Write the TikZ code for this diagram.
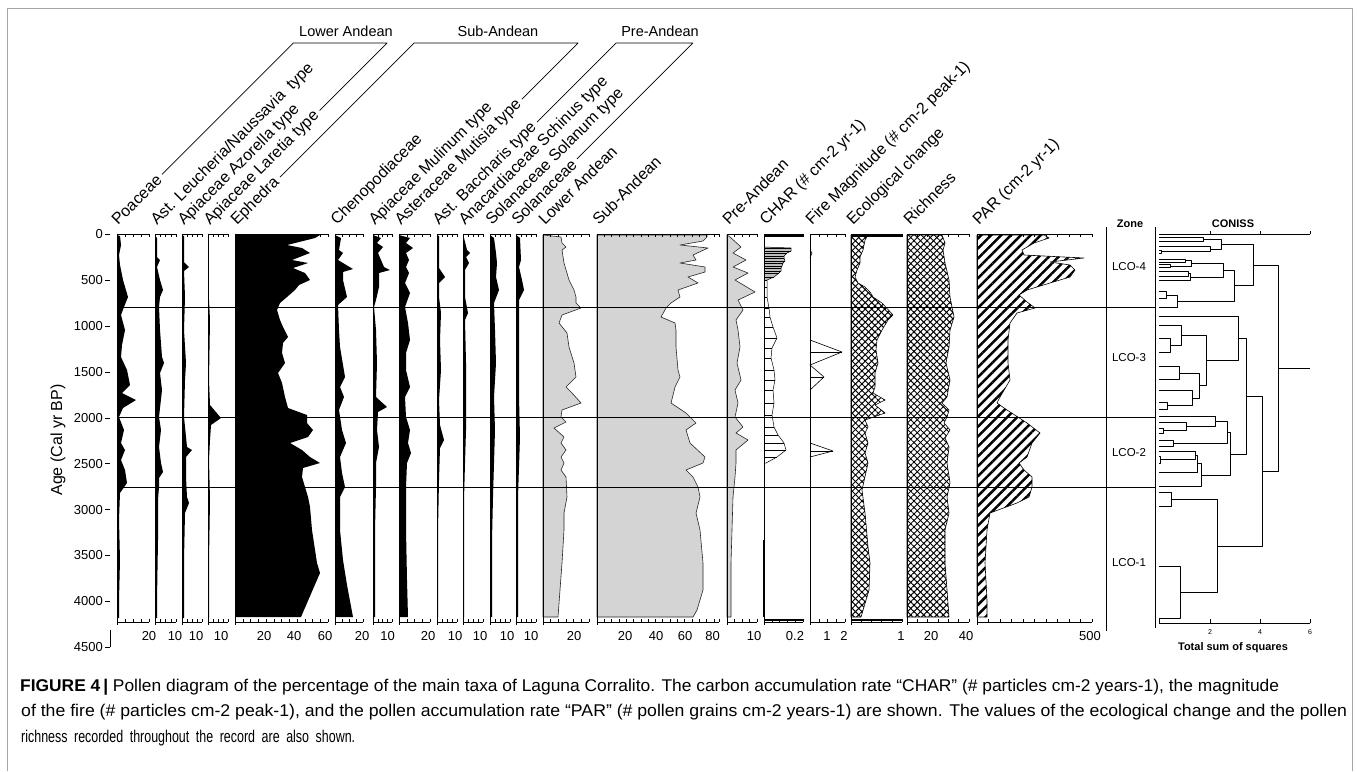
\documentclass[tikz,border=0pt]{standalone}
\usepackage{graphicx}
\usepackage{fontspec}
\setmainfont{Liberation Sans}
\usetikzlibrary{calc,patterns.meta}
\newcommand{\cnbrk}[5]{\draw[cntree] (#1,#3) -- (#5,#3) -- (#5,#4) -- (#2,#4);}
\newcommand{\capline}[2]{\setbox0=\hbox{#2}\pgfmathsetmacro\capsx{#1/\the\wd0}\scalebox{\capsx}[1]{\copy0}}
\begin{document}
\begin{tikzpicture}[x=1pt,y=-1pt,line join=round,
  tk/.style={line width=0.5pt},
  axl/.style={line width=0.7pt},
  colline/.style={line width=0.9pt},
  zoneline/.style={line width=0.9pt},
  cntree/.style={line width=0.8pt},
  taxon/.style={rotate=45, anchor=base west, inner sep=0pt, font=\fontsize{16}{18}\selectfont},
  grp/.style={inner sep=0pt, font=\fontsize{14.5}{17}\selectfont},
  num/.style={inner sep=0pt, font=\fontsize{13}{15}\selectfont},
  sml/.style={inner sep=0pt, font=\fontsize{11.5}{13}\selectfont},
  smlb/.style={inner sep=0pt, font=\fontsize{11}{13}\selectfont\bfseries},
  tinyt/.style={inner sep=0pt, font=\fontsize{7}{8}\selectfont},
  captxt/.style={inner sep=0pt, anchor=base west, font=\fontsize{17}{19}\selectfont},
  grpline/.style={line width=0.7pt, shorten <=4pt, shorten >=4pt},
  stip/.style={fill=black!17, draw=black!85, line width=0.6pt},
  xhatch/.style={pattern={Lines[angle=45,distance=4.6pt,line width=0.95pt]},
     postaction={pattern={Lines[angle=-45,distance=4.6pt,line width=0.95pt]}},
     postaction={draw,line width=0.6pt}},
]
\useasboundingbox (0,0) rectangle (1357,771);
\fill[white] (0,0) rectangle (1357,771);
\draw[gray!70, line width=1pt] (7,771) -- (7,8) -- (1352,8) -- (1352,771);

% ---------------- pollen curves (black silhouettes)
\begin{scope}[shift={(117,0)}]
\fill plot coordinates {(0,235) (3,236) (4,245) (2,255) (3,265) (6,280) (11,297) (7,307) (4,315) (8,330) (5,345) (4,357) (10,370) (13,385) (5,393) (19,400) (6,408) (2,417) (7,430) (4,443) (8,450) (4,460) (8,470) (10,483) (3,493) (2,520) (3,560) (2,600) (2,618) (0,618)} -- cycle;
\end{scope}
\begin{scope}[shift={(155,0)}]
\fill plot coordinates {(0,235) (2,238) (2,257) (5,260) (2,267) (5,280) (8,290) (5,297) (4,307) (5,330) (7,357) (9,363) (5,373) (7,390) (4,417) (6,430) (4,447) (6,463) (8,472) (4,478) (4,487) (3,500) (3,540) (2,600) (2,618) (0,618)} -- cycle;
\end{scope}
\begin{scope}[shift={(182,0)}]
\fill plot coordinates {(0,235) (2,236) (2,262) (7,267) (2,271) (3,297) (2,330) (4,363) (3,380) (2,417) (5,447) (10,450) (4,457) (4,477) (5,497) (7,503) (3,513) (2,560) (2,618) (0,618)} -- cycle;
\end{scope}
\begin{scope}[shift={(208,0)}]
\fill plot coordinates {(0,235) (1,300) (2,320) (1,380) (2,405) (13,418) (3,425) (2,440) (1,460) (2,500) (1,560) (1,618) (0,618)} -- cycle;
\end{scope}
\begin{scope}[shift={(235,0)}]
\fill plot coordinates {(0,235) (85,235) (80,238) (52,245) (67,248) (75,253) (57,260) (73,263) (58,268) (70,273) (75,280) (64,285) (60,290) (52,297) (45,303) (42,310) (45,320) (48,327) (53,337) (48,343) (47,353) (50,363) (43,373) (47,383) (50,397) (53,408) (72,415) (72,423) (78,430) (73,437) (55,443) (67,450) (75,457) (85,463) (68,468) (67,477) (73,497) (75,507) (77,530) (82,563) (85,573) (66,617) (0,617)} -- cycle;
\end{scope}
\begin{scope}[shift={(335,0)}]
\fill plot coordinates {(0,235) (6,238) (4,250) (8,253) (3,260) (8,263) (18,269) (8,272) (8,280) (12,297) (3,305) (4,330) (5,347) (10,377) (5,387) (9,397) (4,410) (7,430) (11,443) (5,457) (7,473) (10,487) (5,497) (5,530) (8,560) (12,585) (18,617) (0,617)} -- cycle;
\end{scope}
\begin{scope}[shift={(373,0)}]
\fill plot coordinates {(0,235) (8,238) (4,243) (10,247) (5,253) (8,260) (11,267) (17,270) (6,273) (6,287) (3,300) (1,307) (3,330) (4,363) (3,397) (14,407) (5,412) (4,430) (6,447) (3,463) (3,487) (2,530) (2,617) (0,617)} -- cycle;
\end{scope}
\begin{scope}[shift={(399,0)}]
\fill plot coordinates {(0,235) (11,238) (7,243) (14,248) (7,253) (10,260) (7,267) (10,273) (6,283) (11,293) (6,307) (9,323) (11,340) (7,353) (7,370) (11,387) (6,397) (7,417) (11,430) (9,443) (12,453) (8,463) (7,487) (7,530) (8,580) (9,617) (0,617)} -- cycle;
\end{scope}
\begin{scope}[shift={(437,0)}]
\fill plot coordinates {(0,235) (2,236) (2,268) (8,277) (2,283) (2,297) (4,313) (3,340) (4,370) (2,400) (3,425) (7,440) (3,448) (2,480) (1,530) (1,617) (0,617)} -- cycle;
\end{scope}
\begin{scope}[shift={(463,0)}]
\fill plot coordinates {(0,235) (1,238) (4,250) (7,253) (3,257) (6,263) (2,270) (2,297) (5,313) (2,320) (3,363) (3,397) (3,430) (2,463) (1,500) (1,617) (0,617)} -- cycle;
\end{scope}
\begin{scope}[shift={(490,0)}]
\fill plot coordinates {(0,235) (4,238) (6,253) (7,263) (6,277) (9,290) (4,303) (5,330) (6,363) (4,397) (5,430) (4,463) (3,497) (2,540) (2,617) (0,617)} -- cycle;
\end{scope}
\begin{scope}[shift={(516,0)}]
\fill plot coordinates {(0,235) (4,238) (5,260) (3,267) (6,280) (8,290) (3,300) (3,330) (3,397) (4,437) (2,497) (2,617) (0,617)} -- cycle;
\end{scope}

% ---------------- group sums (stippled)
\begin{scope}[shift={(543,0)}]
\filldraw[stip] plot coordinates {(0,235) (18,237) (19,243) (23,247) (19,250) (21,263) (26,280) (31,290) (33,297) (33,303) (38,308) (19,315) (16,323) (24,333) (26,347) (31,363) (33,377) (23,387) (29,393) (38,403) (19,410) (18,417) (23,422) (11,428) (21,437) (18,443) (23,450) (18,457) (21,463) (18,470) (23,477) (24,497) (21,513) (21,530) (19,563) (17,590) (15,617) (0,617)} -- cycle;
\end{scope}
\begin{scope}[shift={(597,0)}]
\filldraw[stip] plot coordinates {(0,235) (110,235) (110,237) (106,241) (83,245) (111,248) (96,255) (99,260) (83,263) (108,267) (108,272) (91,277) (101,283) (81,290) (83,297) (74,303) (69,308) (64,317) (78,323) (79,330) (79,347) (81,370) (83,377) (78,387) (74,403) (89,413) (99,423) (89,430) (93,443) (108,457) (106,463) (89,470) (96,477) (101,487) (103,497) (99,513) (103,530) (106,563) (106,590) (100,610) (96,617) (0,617)} -- cycle;
\end{scope}
\begin{scope}[shift={(727,0)}]
\filldraw[stip] plot coordinates {(0,235) (3,237) (14,247) (6,253) (19,260) (6,267) (21,273) (8,280) (28,292) (11,300) (16,310) (9,320) (11,330) (13,347) (10,363) (14,380) (8,390) (11,403) (8,417) (16,427) (9,433) (21,440) (9,450) (9,463) (8,477) (6,497) (5,530) (4,563) (4,600) (4,617) (0,617)} -- cycle;
\end{scope}

% ---------------- CHAR (histogram)
\begin{scope}[shift={(764,0)}]
\fill[black!25] plot coordinates {(0,247) (27,248) (27,251) (23,253) (20,256) (20,258) (21,261) (19,263) (18,266) (17,268) (17,271) (15,273) (10,277) (3,280) (0,280)} -- cycle;
\draw[line width=0.5pt] plot coordinates {(0,247) (27,248) (27,251) (23,253) (20,256) (20,258) (21,261) (19,263) (18,266) (17,268) (17,271) (15,273) (10,277) (3,280) (3,287) (3,297) (5,308) (6,317) (9,327) (13,338) (8,348) (7,358) (10,370) (11,380) (9,390) (10,403) (8,415) (10,427) (14,435) (20,443) (22,450) (13,457) (2,463) (0,463)};
\foreach \dx/\yy in {27/248,27/251,23/253,20/256,20/258,21/261,19/263,18/266,17/268,17/271,15/273,10/277,3/280,3/287,3/297,5/308,6/317,9/327,13/338,8/348,7/358,10/370,11/380,9/390,10/403,8/415,10/427,14/435,20/443,22/450,13/457}
  \draw[line width=0.5pt] (0,\yy) -- (\dx,\yy);
\draw[line width=2.5pt] (0,235.5) -- (39,235.5);
\draw[line width=2pt] (0,620) -- (39,620);
\draw[line width=1.8pt] (0,540) -- (0,617);
\end{scope}

% ---------------- Fire magnitude
\begin{scope}[shift={(810,0)}]
\draw[line width=0.6pt] plot coordinates {(0,340) (32,352) (0,365) (14,377) (0,390)};
\draw[line width=0.6pt] (0,352) -- (32,352) (0,377) -- (14,377);
\draw[line width=0.6pt] plot coordinates {(0,443) (23,451) (0,457)};
\draw[line width=0.6pt] (0,451) -- (23,451);
\draw[line width=0.6pt] (0,250) -- (2,253) -- (0,258);
\end{scope}

% ---------------- Ecological change
\begin{scope}[shift={(851,0)}]
\path[xhatch] plot coordinates {(0,235) (17,235) (14,240) (12,250) (9,257) (9,263) (6,270) (4,277) (7,283) (14,287) (19,292) (22,297) (31,303) (42,315) (37,320) (31,330) (26,340) (25,350) (27,363) (24,373) (24,387) (22,393) (34,400) (24,405) (34,413) (14,420) (17,427) (14,433) (17,443) (14,453) (17,463) (11,490) (14,513) (17,547) (19,563) (18,590) (10,617) (0,617)} -- cycle;
\draw[line width=2.5pt] (0,235.5) -- (51,235.5);
\draw[line width=2pt] (0,620) -- (51,620);
\end{scope}

% ---------------- Richness
\begin{scope}[shift={(907,0)}]
\path[xhatch] plot coordinates {(0,235) (35,235) (38,243) (36,250) (38,263) (42,280) (43,297) (45,307) (47,317) (43,330) (42,347) (39,363) (43,380) (40,397) (35,403) (42,410) (40,417) (37,423) (43,430) (38,438) (42,447) (40,463) (43,483) (40,497) (42,513) (38,530) (38,563) (40,590) (42,617) (0,617)} -- cycle;
\end{scope}

% ---------------- PAR
\begin{scope}[shift={(977,0)}]
\path[pattern={Lines[angle=45,distance=7pt,line width=2.5pt]}, postaction={draw,line width=0.6pt}] plot coordinates {(0,235) (67,235) (72,238) (57,243) (45,250) (47,255) (107,258) (73,262) (93,265) (98,270) (93,277) (73,283) (50,290) (42,295) (50,302) (58,308) (40,313) (33,323) (31,340) (31,363) (33,380) (23,397) (20,403) (30,410) (50,423) (63,433) (55,443) (50,457) (42,463) (47,470) (55,477) (55,487) (52,497) (40,503) (13,513) (10,530) (8,563) (10,600) (10,617) (0,617)} -- cycle;
\end{scope}

% ---------------- axes of all columns
\foreach \a/\b/\s in {117/149/8, 155/176/5.25, 182/202/5, 208/228/5, 235/328/7.75, 335/363/7, 373/392/4.75, 399/430/7.75, 437/457/5, 463/483/5, 490/510/5, 516/536/5, 543/589/7.67, 597/719/7.3, 727/757/7.5, 764/803/7.8, 810/845/8.75, 851/902/10.2, 907/969/10.3, 977/1092/11.5}{
  \draw[axl] (\a,234) -- (\b,234);
  \draw[axl] (\a,622) -- (\b,622);
  \draw[colline] (\a,234) -- (\a,625);
  \pgfmathsetmacro\nx{\a+\s}
  \foreach \t in {\a,\nx,...,\b} {\draw[tk] (\t,234) -- (\t,236.5); \draw[tk] (\t,622) -- (\t,619);}
  \draw[tk] (\b,234) -- (\b,236.5);
  \draw[tk] (\b,622) -- (\b,618.5);
}

% zone boundaries
\draw[zoneline] (117,307) -- (1155,307);
\draw[zoneline] (117,417) -- (1155,417);
\draw[zoneline] (117,487) -- (1155,487);

% age axis
\foreach \v in {0,500,...,4500}{
  \pgfmathsetmacro\yy{234.5+\v*0.0917}
  \node[num,anchor=east] (ytl\v) at (103,\yy) {\v};
  \draw[axl] (105,\yy) -- (110,\yy);
}
\draw[axl] (110,647) -- (110,630);
\node[rotate=90, inner sep=0pt, font=\fontsize{16}{18}\selectfont] (agelab) at (58,440) {Age (Cal yr BP)};

% bottom scale labels
\foreach \xx/\t [count=\i] in {149/20,175/10,196/10,221/10,264/20,294/40,325/60,362/20,387.5/10,428/20,455/10,480/10,507/10,531/10,574/20,625/20,656/40,685/60,712.5/80,754/10,795/0.2,827/1,844/2,901/1,931/20,966/40,1090/500}
  \node[num] (bx\i) at (\xx,636) {\t};

% column labels
\node[taxon] (poa) at (118,226) {Poaceae};
\node[taxon] (leu) at (157,226) {Ast. Leucheria/Naussavia\ \ type};
\node[taxon] (azo) at (184,226) {Apiaceae Azorella type};
\node[taxon] (lar) at (210,226) {Apiaceae Laretia type};
\node[taxon] (eph) at (237,226) {Ephedra};
\node[taxon] (che) at (337,226) {Chenopodiaceae};
\node[taxon] (mul) at (375,226) {Apiaceae Mulinum type};
\node[taxon] (mut) at (401,226) {Asteraceae Mutisia type};
\node[taxon] (bac) at (439,226) {Ast. Baccharis type};
\node[taxon] (sch) at (465,226) {Anacardiaceae Schinus type};
\node[taxon] (sol) at (492,226) {Solanaceae Solanum type};
\node[taxon] (sln) at (518,226) {Solanaceae};
\node[taxon] (lan) at (545,226) {Lower Andean};
\node[taxon] (san) at (599,226) {Sub-Andean};
\node[taxon] (pan) at (729,226) {Pre-Andean};
\node[taxon] (chr) at (766,226) {CHAR (\# cm-2 yr-1)};
\node[taxon] (fir) at (812,226) {Fire Magnitude (\# cm-2 peak-1)};
\node[taxon] (eco) at (853,226) {Ecological change};
\node[taxon] (ric) at (910,226) {Richness};
\node[taxon] (par) at (979,226) {PAR (cm-2 yr-1)};

% group brackets
\node[grp] (lowerg) at (346,31) {Lower Andean};
\node[grp] (subg) at (498,31) {Sub-Andean};
\node[grp] (preg) at (660,31) {Pre-Andean};
\draw[grpline] let \p1=(poa.east), \p2=(lar.east) in
  (\p1) -- ({\x1-43pt-\y1},-43pt) -- ({\x2-43pt-\y2},-43pt) -- (\p2);
\draw[grpline] let \p1=(eph.east), \p2=(mut.east) in
  (\p1) -- ({\x1-43pt-\y1},-43pt) -- ({\x2-43pt-\y2},-43pt) -- (\p2);
\draw[grpline] let \p1=(bac.east), \p2=(sln.east) in
  (\p1) -- ({\x1-43pt-\y1},-43pt) -- ({\x2-43pt-\y2},-43pt) -- (\p2);

% zone column
\draw[colline] (1106,227) -- (1106,631);
\draw[colline] (1155,227) -- (1155,628);
\node[smlb] (zonel) at (1130,224) {Zone};
\node[smlb] (conissl) at (1233,224) {CONISS};
\node[sml] (lco4) at (1129,267) {LCO-4};
\node[sml] (lco3) at (1129,358) {LCO-3};
\node[sml] (lco2) at (1129,453) {LCO-2};
\node[sml] (lco1) at (1129,563) {LCO-1};

% CONISS dendrogram
\begin{scope}[shift={(1080,220)}, x=0.33333pt, y=-0.33333pt]
\draw[axl] (237,42) -- (690,42);
\foreach \t in {390,540,690} \draw[tk] (\t,42) -- (\t,34);
\draw[axl] (237,1210) -- (690,1210);
\foreach \t in {237,390,540,690} \draw[tk] (\t,1210) -- (\t,1198);
\node[tinyt] (cn2) at (390,1237) {2};
\node[tinyt] (cn4) at (540,1237) {4};
\node[tinyt] (cn6) at (690,1237) {6};
\cnbrk{237}{237}{52}{65}{370}
\cnbrk{237}{237}{90}{100}{245}
\cnbrk{237}{245}{80}{95}{392}
\cnbrk{370}{392}{58.5}{87.5}{425}
\cnbrk{237}{237}{117}{127}{315}
\cnbrk{237}{237}{133}{143}{270}
\cnbrk{315}{270}{122}{138}{335}
\cnbrk{237}{237}{155}{168}{325}
\cnbrk{325}{237}{161.5}{182}{332}
\cnbrk{335}{332}{130}{172}{430}
\cnbrk{237}{237}{215}{235}{258}
\cnbrk{258}{237}{225}{262}{292}
\cnbrk{430}{292}{151}{243.5}{462}
\cnbrk{425}{462}{73}{197}{520}
\cnbrk{237}{237}{355}{397}{270}
\cnbrk{237}{270}{315}{376}{305}
\cnbrk{237}{237}{440}{478}{297}
\cnbrk{237}{237}{547}{568}{262}
\cnbrk{237}{262}{512}{557.5}{338}
\cnbrk{297}{338}{459}{535}{358}
\cnbrk{305}{358}{345.5}{497}{380}
\cnbrk{237}{380}{290}{421}{475}
\cnbrk{237}{237}{625}{640}{250}
\cnbrk{237}{250}{608}{632.5}{318}
\cnbrk{237}{318}{590}{620}{405}
\cnbrk{237}{237}{662}{678}{280}
\cnbrk{405}{280}{605}{670}{442}
\cnbrk{237}{237}{708}{730}{242}
\cnbrk{237}{242}{693}{719}{345}
\cnbrk{345}{237}{706}{757}{352}
\cnbrk{352}{237}{731.5}{800}{365}
\cnbrk{442}{365}{637.5}{766}{450}
\cnbrk{475}{450}{355.5}{702}{498}
\cnbrk{237}{237}{818}{858}{275}
\cnbrk{237}{237}{1040}{1195}{302}
\cnbrk{275}{302}{838}{1117.5}{412}
\cnbrk{498}{412}{529}{978}{548}
\cnbrk{520}{548}{135}{753.5}{595}
\draw[cntree] (595,444) -- (690,444);
\end{scope}
\node[smlb] (tss) at (1233,648) {Total sum of squares};

% caption
\node[captxt] (cap1) at (20,691) {\capline{1259}{\textbf{FIGURE 4\,|} Pollen diagram of the percentage of the main taxa of Laguna Corralito. The carbon accumulation rate “CHAR” (\# particles cm-2 years-1), the magnitude}};
\node[captxt] (cap2) at (21,716.5) {\capline{1326}{of the fire (\# particles cm-2 peak-1), and the pollen accumulation rate “PAR” (\# pollen grains cm-2 years-1) are shown. The values of the ecological change and the pollen}};
\node[captxt] (cap3) at (21,742) {\capline{334}{\spaceskip=9pt plus 2pt richness recorded throughout the record are also shown.}};
\end{tikzpicture}
\end{document}
